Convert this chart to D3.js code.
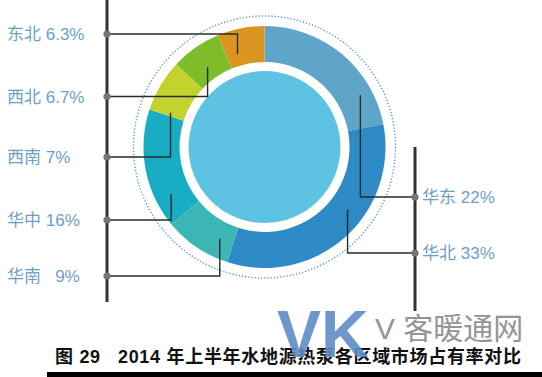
<!DOCTYPE html>
<html>
<head>
<meta charset="utf-8">
<script src="https://cdn.jsdelivr.net/npm/d3@7"></script>
<style>
  body { margin: 0; background: #fff; }
  svg { display: block; }
  text { font-family: "Liberation Sans", "Noto Sans CJK SC", sans-serif; }
</style>
</head>
<body>
<svg id="chart"></svg>
<script>
// data
const regions = ['华东', '华北', '华南', '华中', '西南', '西北', '东北'];
const shares = [22, 33, 9, 16, 7, 6.7, 6.3];
const labels = ['华东 22%', '华北 33%', '华南\u00a0\u00a0\u00a09%', '华中 16%', '西南 7%', '西北 6.7%', '东北 6.3%'];
const sliceColors = ['#5fa5c9', '#2f8bc6', '#3cb6b4', '#19adc5', '#c2d22f', '#7dbd2a', '#da9520'];
const title = '图 29\u00a0\u00a0 2014 年上半年水地源热泵各区域市场占有率对比';

// leader layout: side, row y, anchor angle inside slice (deg), anchor radius
const leaderLayout = [
  {side: 'right', y: 197, angle: 61.6, r: 109},
  {side: 'right', y: 253, angle: 127, r: 104},
  {side: 'left', y: 276, angle: 206, r: 102},
  {side: 'left', y: 220, angle: 243.3, r: 104.5},
  {side: 'left', y: 157, angle: 290, r: 100},
  {side: 'left', y: 96.5, angle: 324.5, r: 98},
  {side: 'left', y: 34, angle: 343.8, r: 96.8}
];

const W = 542, H = 377;
const cx = 264.5, cy = 147;
const leftBarX = 107, rightBarX = 415;

const svg = d3.select('#chart').attr('width', W).attr('height', H);

// dotted outer ring
svg.append('circle')
    .attr('cx', cx).attr('cy', cy).attr('r', 131)
    .attr('fill', 'none')
    .attr('stroke', '#4d93c2')
    .attr('stroke-width', 1.4)
    .attr('stroke-dasharray', '1.2,2');

const pie = d3.pie().sort(null).value(d => d);
const arc = d3.arc().innerRadius(85).outerRadius(121);

const g = svg.append('g').attr('transform', `translate(${cx},${cy})`);

g.selectAll('.slice')
  .data(pie(shares))
  .join('path')
    .attr('class', 'slice')
    .attr('d', arc)
    .attr('fill', (d, i) => sliceColors[i]);

g.append('circle').attr('r', 76).attr('fill', '#5ec3e2');

// vertical bars
svg.append('line')
    .attr('x1', leftBarX).attr('x2', leftBarX)
    .attr('y1', 0).attr('y2', 302)
    .attr('stroke', '#333').attr('stroke-width', 3);
svg.append('line')
    .attr('x1', rightBarX).attr('x2', rightBarX)
    .attr('y1', 147).attr('y2', 311)
    .attr('stroke', '#333').attr('stroke-width', 3);

// leaders
const anchor = L => {
  const a = L.angle * Math.PI / 180;
  return [cx + L.r * Math.sin(a), cy - L.r * Math.cos(a)];
};

regions.forEach((name, i) => {
  const L = leaderLayout[i];
  const [ax, ay] = anchor(L);
  const bx = L.side === 'left' ? leftBarX : rightBarX;
  svg.append('path')
      .attr('d', d3.line()([[ax, ay], [ax, L.y], [bx, L.y]]))
      .attr('fill', 'none')
      .attr('stroke', '#2a2a2a')
      .attr('stroke-width', 1.4);
  svg.append('circle')
      .attr('cx', bx).attr('cy', L.y).attr('r', 3.6)
      .attr('fill', '#767676');
  svg.append('text')
      .attr('x', L.side === 'left' ? 7 : 422)
      .attr('y', L.y)
      .attr('dy', '0.36em')
      .attr('font-size', 17)
      .attr('fill', '#6d9ec7')
      .text(labels[i]);
});

// caption
svg.append('text')
    .attr('x', 55).attr('y', 363)
    .attr('font-size', 18)
    .attr('font-weight', 700)
    .attr('fill', '#111')
    .attr('textLength', 466)
    .attr('lengthAdjust', 'spacing')
    .text(title);

svg.append('rect')
    .attr('x', 47).attr('y', 372)
    .attr('width', W - 47).attr('height', 5)
    .attr('fill', '#000');

// watermark
svg.append('text')
    .attr('x', 277).attr('y', 357)
    .attr('font-size', 66)
    .attr('font-weight', 700)
    .attr('fill', '#5f8cc6')
    .attr('opacity', 0.9)
    .text('VK');
svg.append('text')
    .attr('x', 375).attr('y', 339)
    .attr('font-size', 30)
    .attr('font-family', 'Noto Sans CJK SC, sans-serif')
    .attr('fill', '#8a8a8a')
    .attr('opacity', 0.9)
    .text('V 客暖通网');
</script>
</body>
</html>
